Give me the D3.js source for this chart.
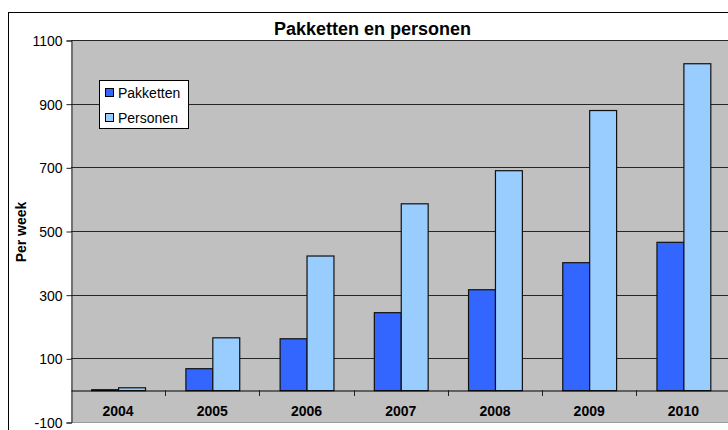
<!DOCTYPE html>
<html>
<head>
<meta charset="utf-8">
<script src="https://cdn.jsdelivr.net/npm/d3@7"></script>
<style>
  html, body { margin: 0; padding: 0; background: #fff; }
  svg { display: block; font-family: "Liberation Sans", Arial, sans-serif; }
</style>
</head>
<body>
<svg id="chart" width="728" height="430"></svg>
<script>
const years = ['2004', '2005', '2006', '2007', '2008', '2009', '2010'];
const seriesNames = ['Pakketten', 'Personen'];
const pakketten = [3, 69, 163, 245, 317, 402, 466];
const personen = [9, 166, 423, 587, 691, 880, 1027];
const yTicks = [-100, 100, 300, 500, 700, 900, 1100];
const colors = ['#3366FF', '#99CCFF'];
const title = 'Pakketten en personen';
const yTitle = 'Per week';

const svg = d3.select('#chart');
const plot = { left: 71, top: 40, right: 730.5, bottom: 422 };

// outer chart border
svg.append('rect').attr('x', 8.5).attr('y', 12.5).attr('width', 800).attr('height', 500)
  .attr('fill', '#fff').attr('stroke', '#000').attr('stroke-width', 1);

// plot area background
svg.append('rect').attr('x', plot.left).attr('y', plot.top)
  .attr('width', plot.right - plot.left).attr('height', plot.bottom - plot.top)
  .attr('fill', '#C0C0C0');
svg.append('line').attr('x1', plot.left).attr('x2', plot.right)
  .attr('y1', plot.top + 0.5).attr('y2', plot.top + 0.5).attr('stroke', '#808080');
svg.append('line').attr('x1', plot.left).attr('x2', plot.right)
  .attr('y1', plot.bottom + 0.5).attr('y2', plot.bottom + 0.5).attr('stroke', '#9a9a9a');

const y = d3.scaleLinear().domain([-100, 1100]).range([plot.bottom, plot.top]);
const x = d3.scaleBand().domain(years).range([plot.left, plot.right]).padding(0);
const xs = d3.scaleBand().domain(seriesNames).range([0, x.bandwidth()])
  .paddingInner(0).paddingOuter(0.75);

// gridlines
svg.append('g').selectAll('line').data(yTicks.filter(t => t > -100)).join('line')
  .attr('x1', plot.left).attr('x2', plot.right)
  .attr('y1', d => Math.round(y(d)) + 0.5).attr('y2', d => Math.round(y(d)) + 0.5)
  .attr('stroke', '#262626').attr('stroke-width', 1);

// y axis
const yAxis = d3.axisLeft(y).tickValues(yTicks).tickSize(5).tickPadding(4).tickFormat(d => String(d));
const yg = svg.append('g').attr('transform', `translate(${plot.left + 0.5},0.5)`).call(yAxis);
yg.select('.domain').attr('stroke', '#222');
yg.selectAll('.tick line').attr('stroke', '#222');
yg.selectAll('.tick text').attr('font-size', 14).attr('fill', '#000')
  .attr('font-family', '"Liberation Sans", Arial, sans-serif').attr('dy', '0.36em');

// bars
const data = years.map((yr, i) => ({ yr, vals: [pakketten[i], personen[i]] }));
const groups = svg.append('g').selectAll('g').data(data).join('g')
  .attr('transform', d => `translate(${x(d.yr)},0)`);
groups.selectAll('rect').data(d => d.vals.map((v, j) => ({ name: seriesNames[j], v, j }))).join('rect')
  .attr('x', d => xs(d.name) + 0.5)
  .attr('y', d => Math.min(y(d.v), y(0)) + 0.5)
  .attr('width', xs.bandwidth())
  .attr('height', d => Math.abs(y(d.v) - y(0)))
  .attr('fill', d => colors[d.j])
  .attr('stroke', '#111').attr('stroke-width', 1.2);

// category axis at zero
const xAxis = d3.axisBottom(x).tickSize(0).tickPadding(0);
const xg = svg.append('g').attr('transform', `translate(0,${Math.round(y(0)) + 0.5})`).call(xAxis);
xg.select('.domain').attr('stroke', '#000');
xg.selectAll('.tick text').remove();
// tick marks at category boundaries
svg.append('g').selectAll('line').data(years.slice(1)).join('line')
  .attr('x1', d => Math.round(x(d)) + 0.5).attr('x2', d => Math.round(x(d)) + 0.5)
  .attr('y1', Math.round(y(0))).attr('y2', Math.round(y(0)) + 6)
  .attr('stroke', '#222');
// category labels
svg.append('g').selectAll('text').data(years).join('text')
  .attr('x', d => x(d) + x.bandwidth() / 2).attr('y', 416)
  .attr('text-anchor', 'middle').attr('font-size', 14).attr('font-weight', 'bold')
  .attr('fill', '#000').text(d => d);

// title
svg.append('text').attr('x', 372.5).attr('y', 35).attr('text-anchor', 'middle')
  .attr('font-size', 18).attr('font-weight', 'bold').attr('fill', '#000').text(title);

// y axis title
svg.append('text').attr('transform', 'translate(26,232) rotate(-90)')
  .attr('text-anchor', 'middle').attr('font-size', 14).attr('font-weight', 'bold')
  .attr('fill', '#000').text(yTitle);

// legend
const lg = svg.append('g');
lg.append('rect').attr('x', 99.5).attr('y', 80.5).attr('width', 89).attr('height', 48)
  .attr('fill', '#fff').attr('stroke', '#000');
seriesNames.forEach((name, i) => {
  const cy = 93 + i * 25;
  lg.append('rect').attr('x', 105.5).attr('y', cy - 4.5).attr('width', 8).attr('height', 8)
    .attr('fill', colors[i]).attr('stroke', '#000');
  lg.append('text').attr('x', 118).attr('y', cy + 5).attr('font-size', 14)
    .attr('fill', '#000').text(name);
});
</script>
</body>
</html>
